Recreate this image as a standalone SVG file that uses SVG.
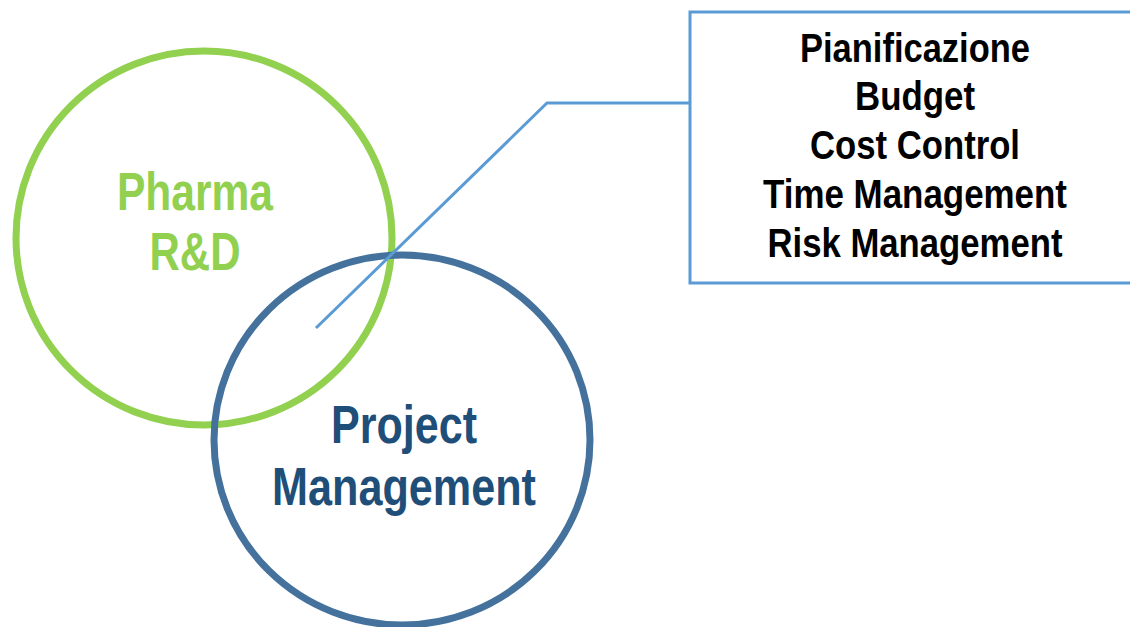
<svg xmlns="http://www.w3.org/2000/svg" width="1130" height="627" viewBox="0 0 1130 627">
<style>
.ring{fill:none;stroke-width:7}
.lbl{font-family:"Liberation Sans Narrow","Liberation Sans",Arial,sans-serif;font-weight:bold;text-anchor:middle}
.big{font-size:53px}
.box{font-size:40px;fill:#000}
</style>
<rect width="1130" height="627" fill="#fff"/>
<g id="pharma">
<ellipse class="ring" cx="204" cy="238" rx="188" ry="187" stroke="#92D050"/>
<text class="lbl big" fill="#92D050" x="195" y="210" textLength="156" lengthAdjust="spacingAndGlyphs">Pharma</text>
<text class="lbl big" fill="#92D050" x="195" y="270" textLength="91" lengthAdjust="spacingAndGlyphs">R&amp;D</text>
</g>
<g id="pm">
<ellipse class="ring" cx="402" cy="440" rx="188" ry="185" stroke="#44729D"/>
<text class="lbl big" fill="#1F4E79" x="404" y="443" textLength="146" lengthAdjust="spacingAndGlyphs">Project</text>
<text class="lbl big" fill="#1F4E79" x="404" y="505" textLength="264" lengthAdjust="spacingAndGlyphs">Management</text>
</g>
<g id="connectors">
<polyline points="316,328 547,103 690,103" fill="none" stroke="#5B9BD5" stroke-width="3"/>
</g>
<g id="activities">
<rect x="690" y="12" width="460" height="271" fill="#fff" stroke="#5B9BD5" stroke-width="3"/>
<text class="lbl box" x="915" y="62" textLength="230" lengthAdjust="spacingAndGlyphs">Pianificazione</text>
<text class="lbl box" x="915" y="110" textLength="120" lengthAdjust="spacingAndGlyphs">Budget</text>
<text class="lbl box" x="915" y="159" textLength="210" lengthAdjust="spacingAndGlyphs">Cost Control</text>
<text class="lbl box" x="915" y="208" textLength="304" lengthAdjust="spacingAndGlyphs">Time Management</text>
<text class="lbl box" x="915" y="257" textLength="295" lengthAdjust="spacingAndGlyphs">Risk Management</text>
</g>
</svg>
